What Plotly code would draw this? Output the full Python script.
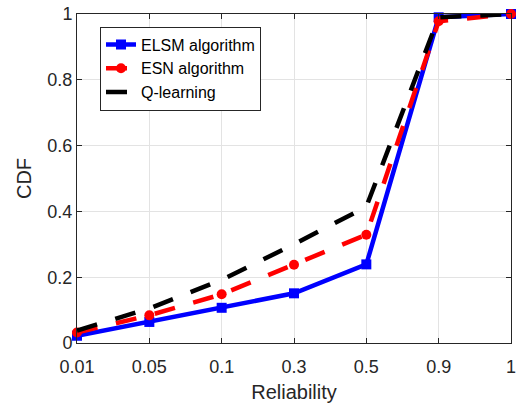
import plotly.graph_objects as go

# Reliability levels (categorical x axis) and CDF values per method
reliability = ["0.01", "0.05", "0.1", "0.3", "0.5", "0.9", "1"]
cdf_elsm = [0.022, 0.064, 0.107, 0.151, 0.239, 0.99, 1.0]
cdf_esn = [0.032, 0.084, 0.148, 0.238, 0.329, 0.978, 1.0]
cdf_qlearn = [0.038, 0.105, 0.192, 0.300, 0.414, 0.99, 1.0]

y_ticks = [0, 0.2, 0.4, 0.6, 0.8, 1.0]
y_ticktext = ["0", "0.2", "0.4", "0.6", "0.8", "1"]

FONT = "Liberation Sans, Arial, Helvetica, sans-serif"
AX = "#262626"
GRID = "#e3e3e3"

fig = go.Figure()

fig.add_trace(go.Scatter(
    x=reliability, y=cdf_elsm, name="ELSM algorithm",
    mode="lines+markers",
    line=dict(color="#0000ff", width=4.5),
    marker=dict(symbol="square", size=10, color="#0000ff"),
    cliponaxis=False,
))
fig.add_trace(go.Scatter(
    x=reliability, y=cdf_esn, name="ESN algorithm",
    mode="lines+markers",
    line=dict(color="#ff0000", width=4.5, dash="21px,19px"),
    marker=dict(symbol="circle", size=10, color="#ff0000"),
    cliponaxis=False,
))
fig.add_trace(go.Scatter(
    x=reliability, y=cdf_qlearn, name="Q-learning",
    mode="lines",
    line=dict(color="#000000", width=4.5, dash="21px,19px"),
    cliponaxis=False,
))

fig.update_layout(
    width=520, height=406,
    margin=dict(l=77, r=4, t=10, b=63),
    paper_bgcolor="white", plot_bgcolor="white",
    font=dict(family=FONT, size=18, color=AX),
    showlegend=True,
    legend=dict(
        x=0.053, y=0.962, xanchor="left", yanchor="top",
        bgcolor="white", bordercolor=AX, borderwidth=1,
        font=dict(family=FONT, size=16, color="#000000"),
        itemwidth=30, tracegroupgap=0,
    ),
)

fig.update_xaxes(
    type="category", range=[0, 6],
    showgrid=True, gridcolor=GRID, gridwidth=1,
    showline=True, linecolor=AX, linewidth=1, mirror="ticks",
    ticks="inside", ticklen=5, tickcolor=AX, ticklabelstandoff=7,
    tickfont=dict(family=FONT, size=18, color=AX),
    title=dict(text="Reliability", font=dict(family=FONT, size=20, color=AX), standoff=9),
    zeroline=False,
)
fig.update_yaxes(
    range=[0, 1], tickvals=y_ticks, ticktext=y_ticktext,
    showgrid=True, gridcolor=GRID, gridwidth=1,
    showline=True, linecolor=AX, linewidth=1, mirror="ticks",
    ticks="inside", ticklen=5, tickcolor=AX,
    tickfont=dict(family=FONT, size=18, color=AX),
    title=dict(text="CDF", font=dict(family=FONT, size=20, color=AX), standoff=10),
    zeroline=False,
)

fig.write_html("out.html")
